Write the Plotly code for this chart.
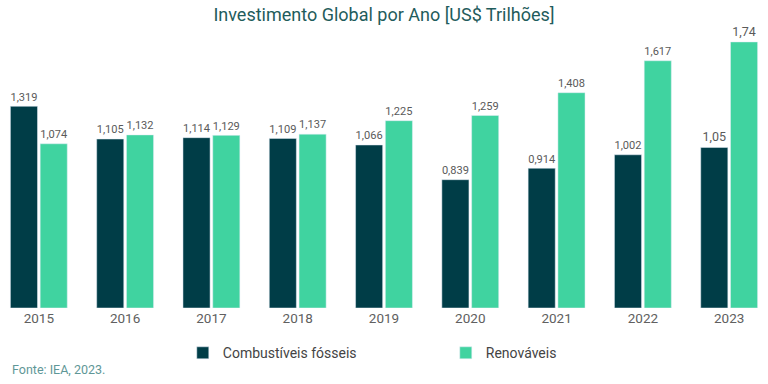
import plotly.graph_objects as go

years = ["2015", "2016", "2017", "2018", "2019", "2020", "2021", "2022", "2023"]
fosseis = [1.319, 1.105, 1.114, 1.109, 1.066, 0.839, 0.914, 1.002, 1.05]
renovaveis = [1.074, 1.132, 1.129, 1.137, 1.225, 1.259, 1.408, 1.617, 1.74]

def fmt(v):
    return str(v).replace(".", ",")

fig = go.Figure()
fig.add_trace(go.Bar(x=years, y=fosseis, name="Combustíveis fósseis",
                     marker_color="#003d47", text=[fmt(v) for v in fosseis],
                     textposition="outside", cliponaxis=False,
                     textfont=dict(color="#5a5a5a", size=12.5)))
fig.add_trace(go.Bar(x=years, y=renovaveis, name="Renováveis",
                     marker_color="#40d3a0", text=[fmt(v) for v in renovaveis],
                     textposition="outside", cliponaxis=False,
                     textfont=dict(color="#5a5a5a", size=12.5)))

fig.update_layout(
    width=768, height=384,
    margin=dict(l=0, r=0, t=30, b=76),
    paper_bgcolor="white", plot_bgcolor="white",
    font=dict(family="Roboto", color="#555555", size=13),
    title=dict(text="Investimento Global por Ano [US$ Trilhões]", x=0.5, xanchor="center",
               y=0.962, yanchor="middle", font=dict(size=18, color="#1f5c5c")),
    barmode="group", bargap=0.31, bargroupgap=0.09,
    showlegend=True,
    legend=dict(orientation="h", x=0.238, xanchor="left", y=-0.105, yanchor="top",
                font=dict(size=14, color="#444444"), entrywidth=218, itemwidth=30),
    xaxis=dict(type="category", range=[-0.45, 8.45], showline=False, ticks="",
               tickfont=dict(size=13.5, color="#606060"), showgrid=False),
    yaxis=dict(range=[0, 1.818], visible=False, showgrid=False),
)
fig.add_annotation(text="Fonte: IEA, 2023.", xref="paper", yref="paper", x=0.013, y=-0.22,
                   xanchor="left", yanchor="middle", showarrow=False,
                   font=dict(size=12.5, color="#5f9797"))

fig.write_html("out.html", config={"displayModeBar": False},
               post_script="document.body.style.margin='0';document.body.style.overflow='hidden';")
